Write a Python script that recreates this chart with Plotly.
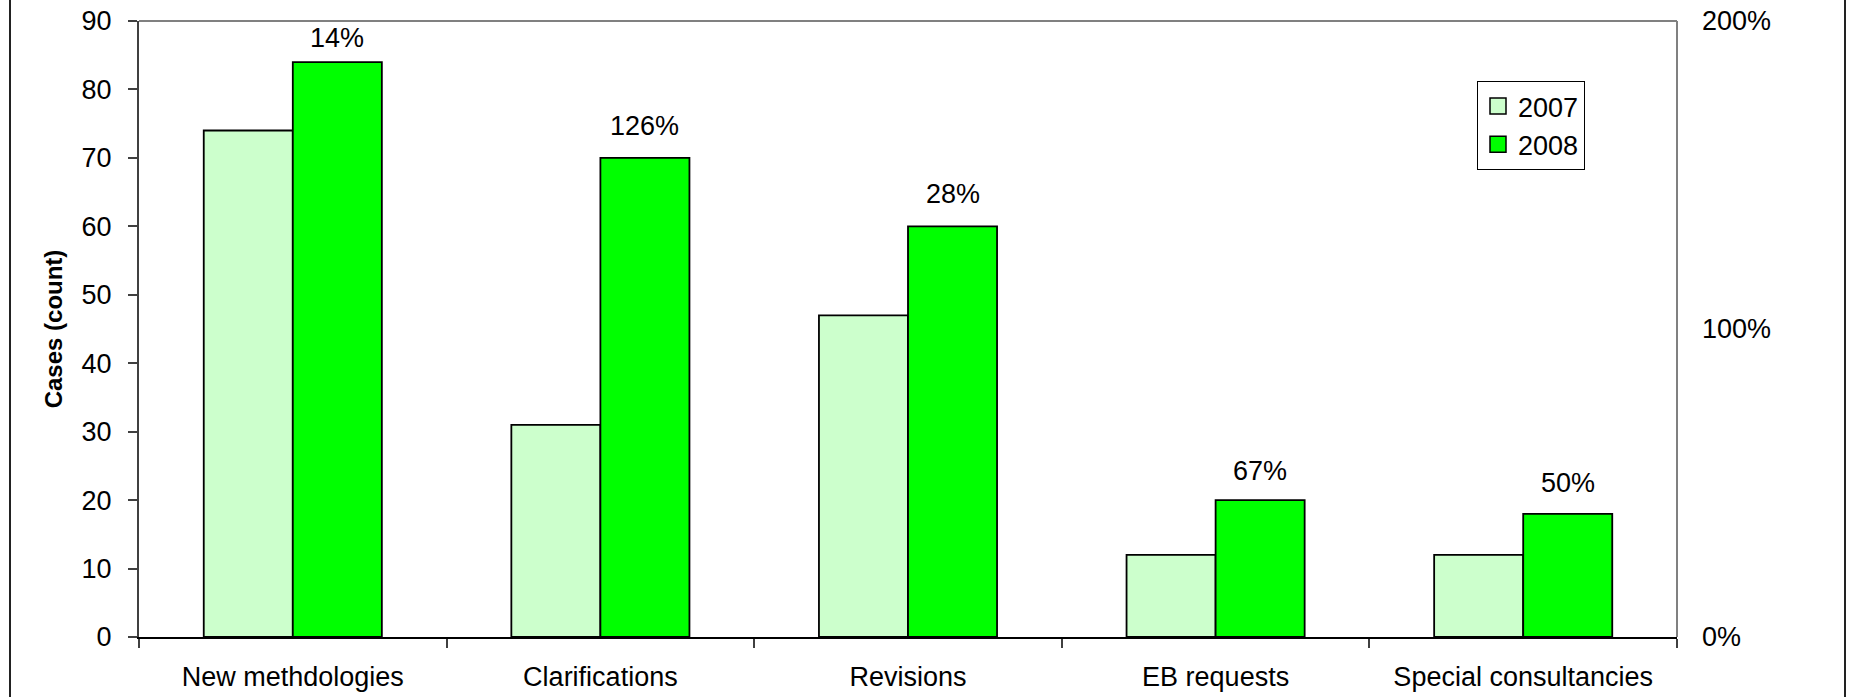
import plotly.graph_objects as go

categories = ["New methdologies", "Clarifications", "Revisions", "EB requests", "Special consultancies"]
cases_2007 = [74, 31, 47, 12, 12]
cases_2008 = [84, 70, 60, 20, 18]
series_names = ["2007", "2008"]
series_colors = ["#CCFFCC", "#00FF00"]
y_ticks = [0, 10, 20, 30, 40, 50, 60, 70, 80, 90]
y2_ticks = [0, 100, 200]

# percent change labels derived from the data
pct_labels = [f"{round((b - a) / a * 100):.0f}%" for a, b in zip(cases_2007, cases_2008)]
label_lift_px = [24, 32, 32, 29, 31]  # style: vertical offset of labels above bars

W, H = 1849, 697
# target page-pixel geometry of the plot area
PX_L, PX_R, PX_T, PX_B = 139, 1677, 21, 637
L, R, T, B = PX_L, W - PX_R, PX_T, H - PX_B
FONT = "Liberation Sans, Arial, sans-serif"
bargap = 0.421

fig = go.Figure()
for name, vals, col in zip(series_names, [cases_2007, cases_2008], series_colors):
    fig.add_trace(go.Bar(
        x=categories, y=vals, name=name, showlegend=False,
        marker=dict(color=col, line=dict(color="black", width=1.8)),
    ))
# legend entries with square swatches
for name, col in zip(series_names, series_colors):
    fig.add_trace(go.Scatter(
        x=[None], y=[None], name=name, mode="markers", hoverinfo="skip",
        marker=dict(symbol="square", size=16, color=col, line=dict(color="black", width=1.5)),
    ))
# invisible trace to activate the secondary axis
fig.add_trace(go.Scatter(
    x=categories, y=[None] * len(categories), yaxis="y2", mode="markers",
    showlegend=False, hoverinfo="skip", marker=dict(opacity=0),
))

half_bar = (1 - bargap) / 4
for i, (v, lab, lift) in enumerate(zip(cases_2008, pct_labels, label_lift_px)):
    fig.add_annotation(
        x=i + half_bar, y=v, xref="x", yref="y", text=lab, showarrow=False,
        yanchor="middle", yshift=lift, font=dict(family=FONT, size=27, color="black"),
    )

def px_x(p):
    return (p - PX_L) / (PX_R - PX_L)

def px_y(p):
    return (PX_B - p) / (PX_B - PX_T)

shapes = [
    dict(type="line", xref="paper", yref="paper", x0=0, x1=1, y0=1, y1=1,
         line=dict(color="#808080", width=2)),
    dict(type="line", xref="paper", yref="paper", x0=1, x1=1, y0=0, y1=1,
         line=dict(color="#808080", width=2)),
    dict(type="line", xref="paper", yref="paper", x0=px_x(10), x1=px_x(10), y0=-2, y1=3,
         line=dict(color="#222222", width=2)),
    dict(type="line", xref="paper", yref="paper", x0=px_x(1845), x1=px_x(1845), y0=-2, y1=3,
         line=dict(color="#222222", width=2)),
]

fig.update_layout(
    width=W, height=H,
    margin=dict(l=L, r=R, t=T, b=B, pad=0, autoexpand=False),
    paper_bgcolor="white", plot_bgcolor="white",
    font=dict(family=FONT, size=27, color="black"),
    barmode="group", bargap=bargap, bargroupgap=0,
    showlegend=True,
    legend=dict(
        x=px_x(1477), y=px_y(81), xanchor="left", yanchor="top",
        bordercolor="black", borderwidth=1, bgcolor="white",
        font=dict(family=FONT, size=27), tracegroupgap=0,
        itemwidth=30,
    ),
    xaxis=dict(
        type="category", automargin=False, showline=True, linecolor="black", linewidth=2,
        ticks="outside", tickson="boundaries", ticklen=9, tickcolor="#404040", tickwidth=1.5,
        showgrid=False, ticklabelstandoff=15, ticklabeloverflow="allow",
        tickfont=dict(family=FONT, size=27),
        range=[-0.5, len(categories) - 0.5],
    ),
    yaxis=dict(
        range=[0, 90], tickvals=y_ticks, showgrid=False, zeroline=False, automargin=False,
        showline=True, linecolor="#404040", linewidth=2,
        ticks="outside", ticklen=9, tickcolor="#404040", tickwidth=1.5,
        ticklabelstandoff=11, ticklabeloverflow="allow", tickfont=dict(family=FONT, size=27),
        title=dict(text="<b>Cases (count)</b>", font=dict(family=FONT, size=24), standoff=12),
    ),
    yaxis2=dict(
        range=[0, 200], tickvals=y2_ticks, ticktext=[f"{v}%" for v in y2_ticks],
        overlaying="y", side="right", automargin=False,
        showgrid=False, zeroline=False, showline=False, ticks="",
        ticklabelstandoff=24, ticklabeloverflow="allow", tickfont=dict(family=FONT, size=27),
    ),
    shapes=shapes,
)

fig.write_html(
    "out.html",
    config={"displayModeBar": False},
    post_script="document.body.style.margin='0';document.body.style.overflow='hidden';",
)
